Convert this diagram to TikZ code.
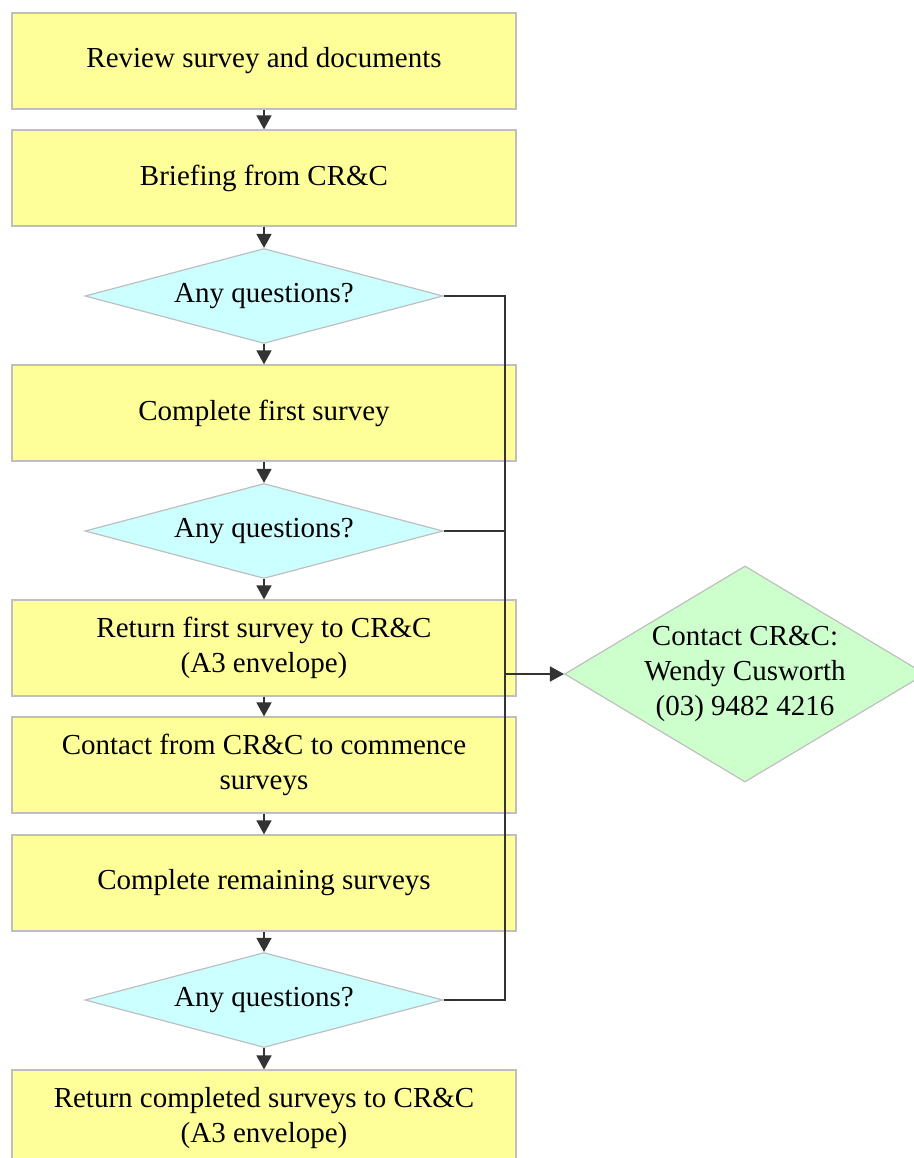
\documentclass[tikz,border=0pt]{standalone}
\usepackage{fontspec}
\setmainfont{Liberation Serif}
\usetikzlibrary{positioning, arrows.meta, shapes.geometric}
\definecolor{pad}{RGB}{255,255,153}
\definecolor{query}{RGB}{204,255,255}
\definecolor{help}{RGB}{204,255,204}
\definecolor{rim}{RGB}{191,191,191}
\definecolor{ink}{RGB}{51,51,51}

\begin{document}
\begin{tikzpicture}[x=1pt, y=-1pt,
  s/.style={draw=rim, line width=1.2pt, fill=pad, minimum width=504pt, minimum height=96pt, align=center, inner sep=0pt, font=\fontsize{29}{35}\selectfont},
  q/.style={diamond, draw=rim, line width=1.2pt, fill=query, minimum width=358pt, minimum height=95pt, aspect=3.8, inner sep=0pt, align=center, font=\fontsize{29}{35}\selectfont},
  c/.style={q, fill=help, minimum width=360pt, minimum height=215pt, aspect=1.67},
  >={Triangle[length=14pt, width=15pt]}]
\useasboundingbox (0,0) rectangle (913,1158);
\node[s] (s1) at (264,61) {Review survey and documents};
\node[s] (s2) at (264,178) {Briefing from CR\&C};
\node[q] (q1) at (264,296) {Any questions?};
\node[s] (s3) at (264,413) {Complete first survey};
\node[q] (q2) at (264,531) {Any questions?};
\node[s] (s4) at (264,648) {Return first survey to CR\&C\\(A3 envelope)};
\node[s] (s5) at (264,765) {Contact from CR\&C to commence\\surveys};
\node[s] (s6) at (264,883) {Complete remaining surveys};
\node[q] (q3) at (264,1000) {Any questions?};
\node[s] (s7) at (264,1118) {Return completed surveys to CR\&C\\(A3 envelope)};
\node[c] (c) at (745,674) {Contact CR\&C:\\Wendy Cusworth\\(03) 9482 4216};
\coordinate (bus) at (505,674);
\begin{scope}[draw=ink, line width=1.6pt]
\draw[->] (s1) -- (s2); \draw[->] (s2) -- (q1);
\draw[->] (q1) -- (s3); \draw[->] (s3) -- (q2);
\draw[->] (q2) -- (s4); \draw[->] (s4) -- (s5);
\draw[->] (s5) -- (s6); \draw[->] (s6) -- (q3);
\draw[->] (q3) -- (s7);
\draw (q1.east) -| (bus); \draw (q2.east) -| (bus);
\draw (q3.east) -| (bus);
\draw[->] (bus) -- (c);
\end{scope}
\end{tikzpicture}
\end{document}
